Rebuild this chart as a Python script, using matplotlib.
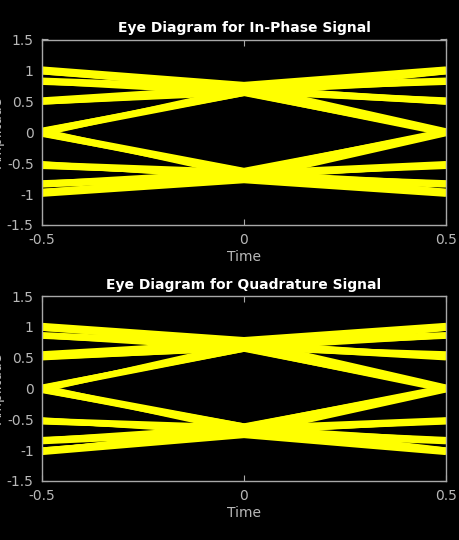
import matplotlib
matplotlib.use("Agg")
import matplotlib.pyplot as plt

plt.rcParams['font.family'] = ['DejaVu Sans']
plt.rcParams['axes.unicode_minus'] = False

# Sample instants of each trace (two samples per symbol, offset eye)
time_pts = [-0.5, 0.0, 0.5]

# In-phase traces: value at left edge, centre, right edge
i_left = [1.02, 0.98, 0.84, 0.81, 1.01, 0.83, 0.52, 0.49, 0.51, 0.03, -0.02, 0.02, 0.99, 0.82, 0.50, 0.00, 0.98, 0.49,
          -1.00, -0.96, -0.85, -0.82, -0.99, -0.84, -0.51, -0.55, -0.53, -0.03, 0.02, -0.02, -0.97, -0.83, -0.54, 0.00, -0.96, -0.52]
i_center = [0.77, 0.74, 0.72, 0.70, 0.66, 0.68, 0.73, 0.66, 0.70, 0.63, 0.70, 0.66, 0.75, 0.64, 0.68, 0.63, 0.72, 0.64,
            -0.78, -0.75, -0.72, -0.70, -0.66, -0.68, -0.73, -0.66, -0.70, -0.63, -0.70, -0.66, -0.76, -0.64, -0.68, -0.62, -0.72, -0.64]
i_right = [1.02, 0.84, 0.98, 0.81, 0.52, 0.49, 1.01, 0.83, 0.51, 0.99, 0.82, 0.50, 0.02, -0.02, 0.01, 0.00, 0.49, 0.98,
           -1.00, -0.85, -0.96, -0.82, -0.51, -0.55, -0.99, -0.84, -0.53, -0.97, -0.83, -0.54, -0.02, 0.02, -0.01, 0.00, -0.52, -0.96]

# Quadrature traces
q_left = [1.02, 0.98, 0.87, 0.85, 1.01, 0.86, 0.56, 0.50, 0.53, 0.02, -0.02, 0.01, 0.99, 0.86, 0.52, 0.00, 0.98, 0.51,
          -1.035, -1.00, -0.86, -0.83, -1.02, -0.85, -0.51, -0.54, -0.52, -0.03, 0.02, -0.02, -1.00, -0.84, -0.53, 0.00, -1.01, -0.52]
q_center = [0.79, 0.76, 0.73, 0.70, 0.66, 0.69, 0.75, 0.66, 0.71, 0.64, 0.72, 0.67, 0.77, 0.65, 0.69, 0.64, 0.74, 0.65,
            -0.76, -0.73, -0.71, -0.68, -0.64, -0.67, -0.72, -0.64, -0.69, -0.61, -0.69, -0.65, -0.74, -0.62, -0.67, -0.61, -0.70, -0.63]
q_right = [1.02, 0.87, 0.98, 0.85, 0.56, 0.50, 1.01, 0.86, 0.53, 0.99, 0.86, 0.52, 0.02, -0.02, 0.01, 0.00, 0.51, 0.98,
           -1.035, -0.86, -1.00, -0.83, -0.51, -0.54, -1.02, -0.85, -0.52, -1.00, -0.84, -0.53, -0.02, 0.02, -0.01, 0.00, -0.52, -1.01]

x_ticks = [-0.5, 0, 0.5]
x_labels = ['-0.5', '0', '0.5']
y_ticks = [-1.5, -1, -0.5, 0, 0.5, 1, 1.5]
y_labels = ['-1.5', '-1', '-0.5', '0', '0.5', '1', '1.5']

titles = ['Eye Diagram for In-Phase Signal', 'Eye Diagram for Quadrature Signal']

W, H = 460, 540
fig = plt.figure(figsize=(W / 100, H / 100), dpi=100, facecolor='black')

TEXT = '#b8b8b8'
FRAME = '#a8a8a8'

axes_px = [(42, 39.5, 446, 225), (42, 296, 446, 481)]
datasets = [(i_left, i_center, i_right), (q_left, q_center, q_right)]

for k, ((x0, y0, x1, y1), (lv, cv, rv)) in enumerate(zip(axes_px, datasets)):
    ax = fig.add_axes([x0 / W, 1 - y1 / H, (x1 - x0) / W, (y1 - y0) / H])
    ax.set_facecolor('black')
    for L, C, R in zip(lv, cv, rv):
        ax.plot(time_pts, [L, C, R], color='#ffff00', lw=4.0,
                solid_capstyle='butt', solid_joinstyle='miter')
    ax.set_xlim(-0.5, 0.5)
    ax.set_ylim(-1.5, 1.5)
    ax.set_xticks(x_ticks)
    ax.set_xticklabels(x_labels)
    ax.set_yticks(y_ticks)
    ax.set_yticklabels(y_labels)
    ax.tick_params(direction='in', length=4, width=0.8, colors=FRAME,
                   labelcolor=TEXT, labelsize=10, pad=6, top=True, right=True)
    for s in ax.spines.values():
        s.set_color(FRAME)
        s.set_linewidth(1.0)
        s.set_zorder(5)
    ax.set_xlabel('Time', color=TEXT, fontsize=10, labelpad=2)
    fig.text(-2 / W, 1 - ((y0 + y1) / 2) / H, 'Amplitude', rotation=90,
             ha='center', va='center', color=TEXT, fontsize=10)
    fig.text((x0 + x1) / 2 / W, 1 - (y0 - 11.5) / H, titles[k], ha='center',
             va='center', color='white', fontsize=10, fontweight='bold')

fig.savefig('out.png', dpi=100, facecolor='black')
